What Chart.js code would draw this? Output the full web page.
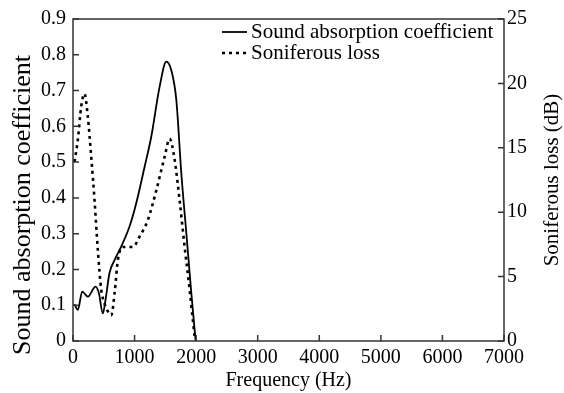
<!DOCTYPE html>
<html>
<head>
<meta charset="utf-8">
<script src="https://cdn.jsdelivr.net/npm/chart.js@4/dist/chart.umd.min.js"></script>
<style>
  html, body { margin: 0; padding: 0; background: #fff; }
  #wrap { width: 564px; height: 393px; }
</style>
</head>
<body>
<div id="wrap"><canvas id="chart"></canvas></div>
<script>
// Sound absorption coefficient (left axis)
const absFreq = [24, 78, 150, 241, 366, 420, 485, 528, 593, 675, 783, 918, 1027, 1163, 1271, 1407, 1515, 1596, 1678, 1759, 1841, 1922, 1992];
const absValues = [0.103, 0.087, 0.138, 0.124, 0.152, 0.134, 0.077, 0.115, 0.19, 0.226, 0.264, 0.32, 0.385, 0.487, 0.571, 0.711, 0.781, 0.757, 0.674, 0.469, 0.301, 0.133, 0];

// Soniferous loss in dB (right axis)
const lossFreq = [24, 78, 133, 187, 241, 296, 350, 403, 458, 512, 566, 621, 675, 729, 810, 972, 1081, 1216, 1353, 1488, 1569, 1650, 1732, 1813, 1894, 1976];
const lossValues = [13.9, 15.6, 18.2, 19.2, 17.4, 14.3, 10.9, 7.1, 4.0, 2.9, 2.3, 2.0, 3.7, 6.3, 7.3, 7.3, 8.1, 9.4, 11.7, 14.3, 15.7, 14.1, 10.9, 7.3, 4.0, 0.3];

const seriesNames = ["Sound absorption coefficient", "Soniferous loss"];
const leftTitle = "Sound absorption coefficient";
const rightTitle = "Soniferous loss (dB)";

const FONT = "Liberation Serif";
const INK = "#000";
const FRAME = "#333";

function verticalText(ctx, text, x, y, size) {
  ctx.save();
  ctx.translate(x, y);
  ctx.rotate(-Math.PI / 2);
  ctx.font = size + "px '" + FONT + "'";
  ctx.fillStyle = INK;
  ctx.textAlign = "center";
  ctx.textBaseline = "middle";
  ctx.fillText(text, 0, 0);
  ctx.restore();
}

// frame, inward ticks, legend and axis titles
const decor = {
  id: "decor",
  afterDraw(chart) {
    const ctx = chart.ctx;
    const a = chart.chartArea;
    ctx.save();
    ctx.strokeStyle = FRAME;
    ctx.lineWidth = 1.5;
    ctx.strokeRect(a.left, a.top, a.right - a.left, a.bottom - a.top);

    const tl = 6;
    ctx.beginPath();
    chart.scales.x.ticks.forEach(t => {
      const px = chart.scales.x.getPixelForValue(t.value);
      ctx.moveTo(px, a.bottom);
      ctx.lineTo(px, a.bottom - tl);
    });
    chart.scales.y.ticks.forEach(t => {
      const py = chart.scales.y.getPixelForValue(t.value);
      ctx.moveTo(a.left, py);
      ctx.lineTo(a.left + tl, py);
    });
    chart.scales.y1.ticks.forEach(t => {
      const py = chart.scales.y1.getPixelForValue(t.value);
      ctx.moveTo(a.right, py);
      ctx.lineTo(a.right - tl, py);
    });
    ctx.stroke();

    // legend
    const lx = 222, ly = 32, gap = 21;
    ctx.font = "21px '" + FONT + "'";
    ctx.textBaseline = "alphabetic";
    chart.data.datasets.forEach((ds, i) => {
      const y = ly + i * gap;
      ctx.strokeStyle = INK;
      ctx.lineWidth = ds.borderWidth;
      ctx.setLineDash(ds.borderDash || []);
      ctx.beginPath();
      ctx.moveTo(lx, y);
      ctx.lineTo(lx + 25, y);
      ctx.stroke();
      ctx.setLineDash([]);
      ctx.fillStyle = INK;
      ctx.fillText(ds.label, lx + 29, y + 6);
    });
    ctx.restore();

    verticalText(ctx, leftTitle, 23, 205, 26);
    verticalText(ctx, rightTitle, 552, (a.top + a.bottom) / 2, 21);
  }
};

const tickFont = { family: FONT, size: 20 };

new Chart(document.getElementById("chart"), {
  type: "line",
  data: {
    datasets: [
      {
        label: seriesNames[0],
        data: absFreq.map((f, i) => ({ x: f, y: absValues[i] })),
        yAxisID: "y",
        borderColor: INK,
        borderWidth: 1.8,
        pointRadius: 0,
        fill: false,
        cubicInterpolationMode: "monotone",
      },
      {
        label: seriesNames[1],
        data: lossFreq.map((f, i) => ({ x: f, y: lossValues[i] })),
        yAxisID: "y1",
        borderColor: INK,
        borderWidth: 2.6,
        borderDash: [3, 4],
        pointRadius: 0,
        fill: false,
        cubicInterpolationMode: "monotone",
      },
    ],
  },
  options: {
    responsive: true,
    maintainAspectRatio: false,
    animation: false,
    layout: { padding: { top: 19, left: 0, right: 0, bottom: 0 } },
    plugins: { legend: { display: false }, tooltip: { enabled: false } },
    scales: {
      x: {
        type: "linear",
        min: 0,
        max: 7000,
        ticks: { stepSize: 1000, color: INK, font: tickFont, padding: 5, maxRotation: 0, callback: v => String(v) },
        grid: { display: false, drawTicks: false, tickLength: 0 },
        border: { display: false },
        title: { display: true, text: "Frequency (Hz)", color: INK, font: { family: FONT, size: 20 }, padding: 0 },
        afterFit(s) { s.height = 52; },
      },
      y: {
        position: "left",
        min: 0,
        max: 0.9,
        ticks: { stepSize: 0.1, color: INK, font: tickFont, padding: 7 },
        grid: { display: false, drawTicks: false, tickLength: 0 },
        border: { display: false },
        afterFit(s) { s.width = 73; },
      },
      y1: {
        position: "right",
        min: 0,
        max: 25,
        ticks: { stepSize: 5, color: INK, font: tickFont, padding: 3 },
        grid: { display: false, drawTicks: false, tickLength: 0 },
        border: { display: false },
        afterFit(s) { s.width = 60; },
      },
    },
  },
  plugins: [decor],
});
</script>
</body>
</html>
